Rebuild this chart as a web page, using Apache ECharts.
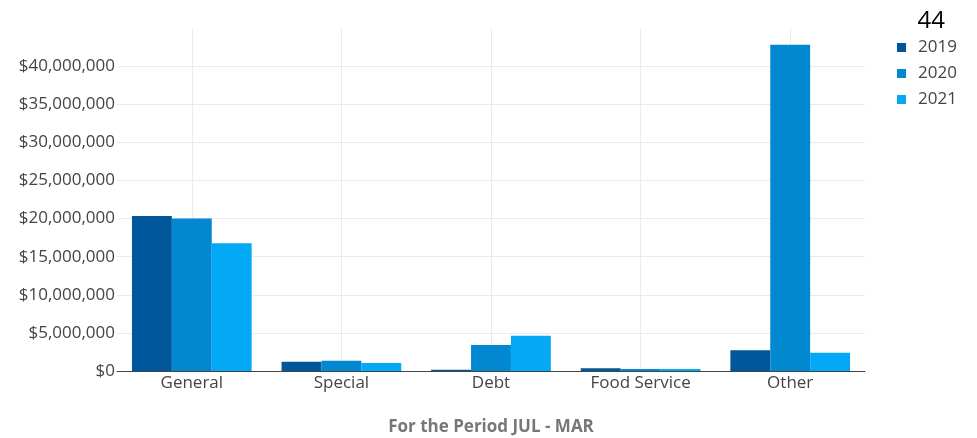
<!DOCTYPE html>
<html>
<head>
<meta charset="utf-8">
<script src="https://cdn.jsdelivr.net/npm/echarts@6/dist/echarts.min.js"></script>
<style>
  html, body { margin: 0; padding: 0; background: #fff; }
  #chart { width: 977px; height: 438px; }
</style>
</head>
<body>
<div id="chart"></div>
<script>
// Fund categories on the x axis
const categories = ['General', 'Special', 'Debt', 'Food Service', 'Other'];

// Revenue per fund for the JUL - MAR period, by fiscal year
const values2019 = [20340000, 1220000, 170000, 350000, 2720000];
const values2020 = [20000000, 1350000, 3410000, 270000, 42800000];
const values2021 = [16750000, 1050000, 4630000, 250000, 2400000];

const seriesNames = ['2019', '2020', '2021'];
const seriesColors = ['#01579b', '#0288d1', '#03a9f4'];

const fontFamily = '"Open Sans", "Noto Sans", sans-serif';

function money(v) {
  return '$' + Math.round(v).toString().replace(/\B(?=(\d{3})+(?!\d))/g, ',');
}

const chart = echarts.init(document.getElementById('chart'), null, { renderer: 'canvas' });

const yMax = 45000000;
const yStep = 5000000;
// hide the top gridline (at yMax), keep the others light grey
const gridColors = [];
for (let v = 0; v <= yMax; v += yStep) gridColors.push(v >= yMax ? 'rgba(0,0,0,0)' : '#ebebeb');

// helper axis spanning two units per category: odd units sit on category centres,
// so its split lines give vertical gridlines through each group
const helperMax = categories.length * 2;

chart.setOption({
  animation: false,
  textStyle: { fontFamily },
  title: {
    text: '44',
    right: 27,
    top: 4,
    textStyle: { fontFamily, fontSize: 24, fontWeight: 'normal', color: '#000' }
  },
  legend: {
    orient: 'vertical',
    left: 892,
    top: 34,
    itemWidth: 9,
    itemHeight: 9,
    itemGap: 9,
    icon: 'rect',
    textStyle: { fontFamily, fontSize: 17, color: '#444', padding: [0, 0, 0, 7] },
    data: seriesNames
  },
  grid: { left: 117, right: 112, top: 28, bottom: 67, containLabel: false, outerBoundsMode: 'none' },
  xAxis: [{
    type: 'category',
    data: categories,
    name: 'For the Period JUL - MAR',
    nameLocation: 'middle',
    nameGap: 48,
    nameTextStyle: { fontFamily, fontSize: 17, fontWeight: 'bold', color: '#777' },
    axisLine: { show: true, lineStyle: { color: '#444', width: 1 } },
    axisTick: { show: false },
    axisLabel: { fontFamily, fontSize: 17, color: '#444', margin: 4 },
    splitLine: { show: false },
    z: 3
  }, {
    type: 'value',
    min: 0,
    max: helperMax,
    interval: 1,
    position: 'bottom',
    show: true,
    axisLine: { show: false },
    axisTick: { show: false },
    axisLabel: { show: false },
    splitLine: { show: true, lineStyle: { color: ['rgba(0,0,0,0)', '#ebebeb'], width: 1 } }
  }],
  yAxis: {
    type: 'value',
    min: 0,
    max: yMax,
    interval: yStep,
    axisLine: { show: false },
    axisTick: { show: false },
    axisLabel: {
      fontFamily, fontSize: 17, color: '#444', margin: 2,
      formatter: v => (v >= yMax ? '' : money(v))
    },
    splitLine: { show: true, lineStyle: { color: gridColors, width: 1 } }
  },
  series: seriesNames.map((name, i) => ({
    name,
    type: 'bar',
    xAxisIndex: 0,
    data: [values2019, values2020, values2021][i],
    barGap: '0%',
    barCategoryGap: '20%',
    itemStyle: { color: seriesColors[i] }
  }))
});
</script>
</body>
</html>
